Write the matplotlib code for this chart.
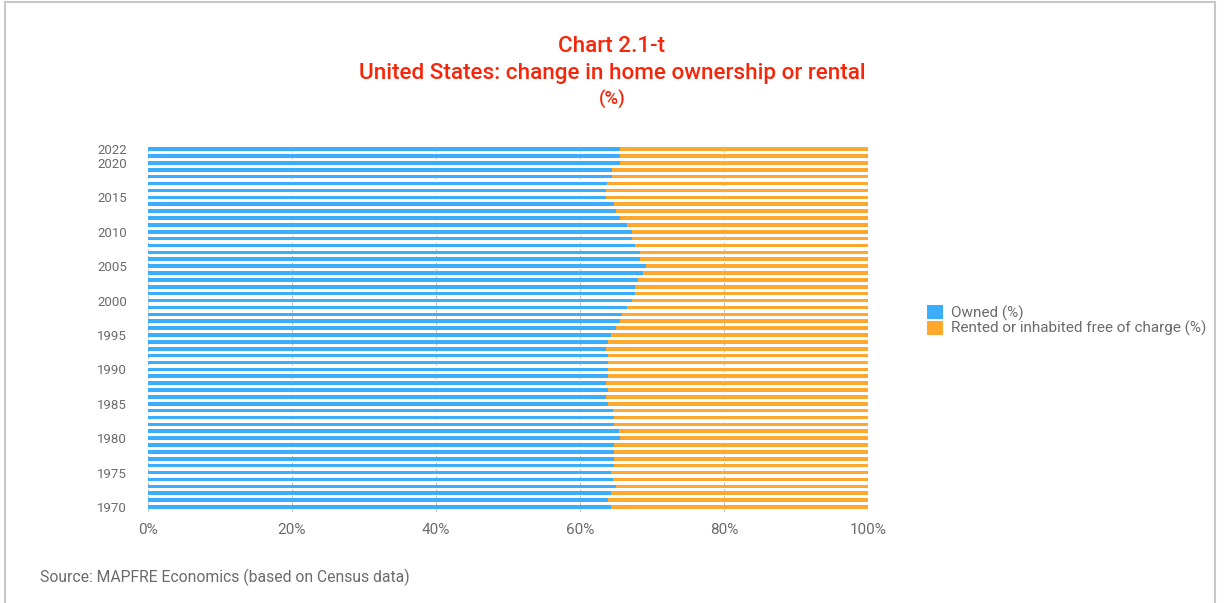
import numpy as np
import matplotlib.pyplot as plt
from matplotlib.patches import Rectangle

# Home ownership, United States (Census), % of households
years = list(range(1970, 2023))
owned = [64.3, 63.9, 64.3, 65.0, 64.6, 64.3, 64.7, 64.7, 64.7, 64.7,
         65.6, 65.4, 64.7, 64.7, 64.6, 63.9, 63.6, 63.9, 63.6, 63.9,
         63.9, 63.9, 63.9, 63.6, 63.9, 64.3, 65.0, 65.5, 65.8, 66.5,
         67.2, 67.7, 67.7, 68.0, 68.8, 69.2, 68.3, 68.3, 67.7, 67.2,
         67.2, 66.5, 65.5, 65.0, 64.7, 63.6, 63.6, 63.8, 64.4, 64.4,
         65.5, 65.5, 65.5]
rented = [100 - v for v in owned]
ytick_years = [1970, 1975, 1980, 1985, 1990, 1995, 2000, 2005, 2010, 2015, 2020, 2022]
xticks = [0, 20, 40, 60, 80, 100]

blue = '#3badfd'
orange = '#ffa82e'
red = '#f5260a'
grey_txt = '#6b6b6b'

plt.rcParams['font.family'] = ['Roboto', 'DejaVu Sans']

fig = plt.figure(figsize=(12.24, 6.03), dpi=100)
ax = fig.add_axes([0.1209, 0.1509, 0.5883, 0.6086])

ax.barh(years, owned, height=0.52, color=blue, label='Owned (%)', zorder=2)
ax.barh(years, rented, left=owned, height=0.52, color=orange,
        label='Rented or inhabited free of charge (%)', zorder=2)

ax.set_xlim(0, 100)
ax.set_ylim(1969.27, 2022.6)
ax.set_xticks(xticks)
ax.set_xticklabels([f'{v}%' for v in xticks], fontsize=11, color=grey_txt)
ax.set_yticks(ytick_years)
ax.set_yticklabels([str(y) for y in ytick_years], fontsize=9.5, color=grey_txt)
ax.tick_params(length=0, pad=8)
ax.tick_params(axis='y', pad=15)
for s in ax.spines.values():
    s.set_visible(False)
ax.grid(axis='x', color='#a0a0a0', linestyle=(0, (3, 3)), linewidth=0.8,
        alpha=0.6, zorder=3)

fig.text(0.5, 1 - 47/603, 'Chart 2.1-t', ha='center', va='center',
         fontsize=16.2, fontweight='medium', color=red)
fig.text(0.5, 1 - 73/603, 'United States: change in home ownership or rental',
         ha='center', va='center', fontsize=16.2, fontweight='medium', color=red)
fig.text(0.5, 1 - 99/603, '(%)', ha='center', va='center', fontsize=13.5,
         fontweight='medium', color=red)

leg = fig.legend(loc='upper left', bbox_to_anchor=(0.752, 0.505), frameon=False,
                 fontsize=11, handlelength=1.1, handleheight=1.1,
                 labelspacing=0.0, handletextpad=0.5, borderaxespad=0)
for t in leg.get_texts():
    t.set_color(grey_txt)

fig.text(40/1224, 1 - 577/603, 'Source: MAPFRE Economics (based on Census data)',
         ha='left', va='center', fontsize=11.3, color=grey_txt)

fig.patches.append(Rectangle((5/1224, -0.05), 1210/1224, 1.05 - 2/603,
                             transform=fig.transFigure, fill=False,
                             edgecolor='#c8c8c8', linewidth=1.5))

fig.savefig('out.png', dpi=100)
